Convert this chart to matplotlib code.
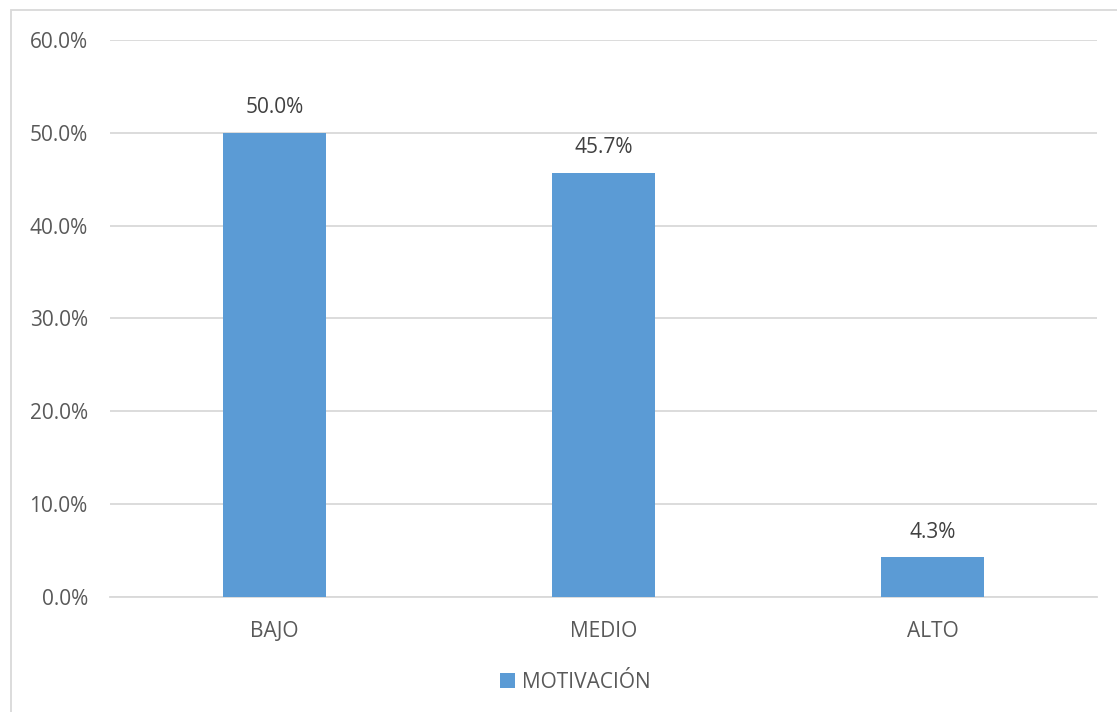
"""Bar chart of motivation levels."""

import matplotlib
matplotlib.use("Agg")
import matplotlib.pyplot as plt
from matplotlib.patches import Rectangle
from matplotlib.ticker import PercentFormatter

categories = ["BAJO", "MEDIO", "ALTO"]
values = [50.0, 45.7, 4.3]
series_name = "MOTIVACIÓN"
y_ticks = [0, 10, 20, 30, 40, 50, 60]

BAR_COLOR = "#5B9BD5"
TEXT_COLOR = "#595959"
GRID_COLOR = "#D9D9D9"

plt.rcParams["font.family"] = ["Open Sans", "DejaVu Sans"]

fig = plt.figure(figsize=(11.17, 7.12), dpi=100)
ax = fig.add_axes([110 / 1117, 1 - 597 / 712, 987 / 1117, 557 / 712])

# chart frame
fig.patches.append(Rectangle((11 / 1117, -0.1), 1.2, 1.1 - 10 / 712,
                             transform=fig.transFigure, fill=False,
                             edgecolor=GRID_COLOR, linewidth=1.3))

x = range(len(categories))
bars = ax.bar(x, values, width=0.315, color=BAR_COLOR, label=series_name, zorder=3)

for rect, v in zip(bars, values):
    ax.annotate(f"{v:.1f}%", (rect.get_x() + rect.get_width() / 2, v),
                xytext=(0, 18), textcoords="offset points",
                ha="center", va="center", fontsize=15, color="#404040")

ax.set_xlim(-0.5, len(categories) - 0.5)
ax.set_ylim(0, 60)
ax.set_yticks(y_ticks)
ax.yaxis.set_major_formatter(PercentFormatter(decimals=1))
ax.set_xticks(list(x))
ax.set_xticklabels(categories)
ax.tick_params(axis="both", length=0, labelsize=15, labelcolor=TEXT_COLOR)
ax.tick_params(axis="y", pad=16)
ax.tick_params(axis="x", pad=17)

ax.grid(axis="y", color=GRID_COLOR, linewidth=1.3, zorder=0)
for side in ["top", "right", "left"]:
    ax.spines[side].set_visible(False)
ax.spines["bottom"].set_color(GRID_COLOR)
ax.spines["bottom"].set_linewidth(1.3)

leg = fig.legend(loc="center", bbox_to_anchor=(575 / 1117, 1 - 682 / 712),
                 frameon=False, fontsize=15, handlelength=0.75, handleheight=0.75,
                 handletextpad=0.3)
for t in leg.get_texts():
    t.set_color(TEXT_COLOR)

fig.savefig("out.png", dpi=100)
